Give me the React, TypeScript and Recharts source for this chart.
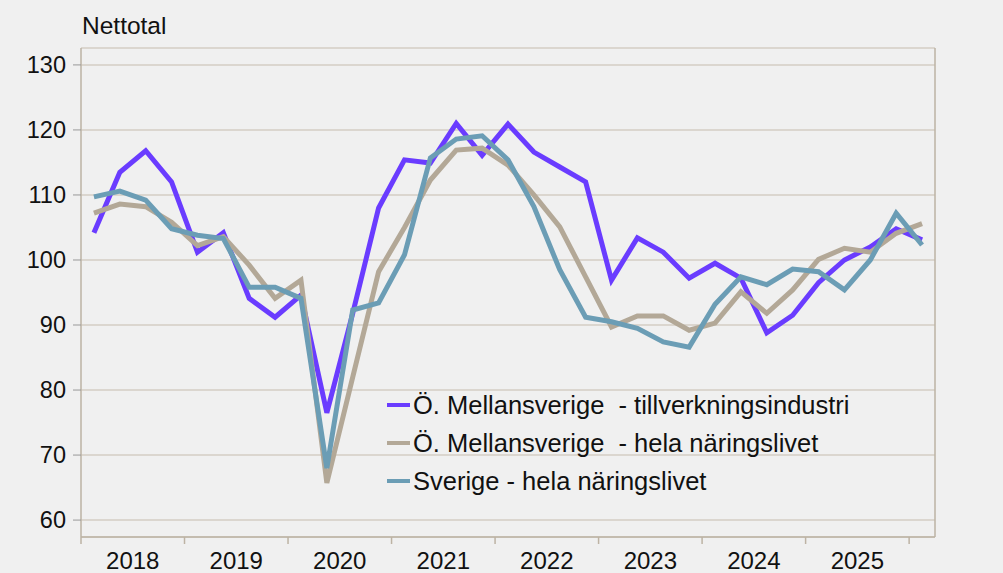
import { LineChart, Line, XAxis, YAxis, CartesianGrid, Legend } from 'recharts'

const quarters = [
  '2018K1', '2018K2', '2018K3', '2018K4',
  '2019K1', '2019K2', '2019K3', '2019K4',
  '2020K1', '2020K2', '2020K3', '2020K4',
  '2021K1', '2021K2', '2021K3', '2021K4',
  '2022K1', '2022K2', '2022K3', '2022K4',
  '2023K1', '2023K2', '2023K3', '2023K4',
  '2024K1', '2024K2', '2024K3', '2024K4',
  '2025K1', '2025K2', '2025K3', '2025K4',
  '2026K1',
]

const years = ['2018', '2019', '2020', '2021', '2022', '2023', '2024', '2025']

const seriesNames = [
  'Ö. Mellansverige  - tillverkningsindustri',
  'Ö. Mellansverige  - hela näringslivet',
  'Sverige - hela näringslivet',
]

const omTillverkning = [
  104.2, 113.5, 116.8, 112.0, 101.2, 104.2, 94.1, 91.2, 94.6, 76.5, 91.8,
  108.0, 115.4, 114.9, 121.0, 116.1, 120.9, 116.6, 114.3, 112.0, 96.9, 103.4,
  101.2, 97.2, 99.5, 97.2, 88.8, 91.5, 96.5, 100.0, 102.0, 104.8, 103.1,
]

const omHela = [
  107.2, 108.6, 108.2, 105.8, 102.2, 103.6, 99.2, 94.1, 96.9, 65.7, 82.0,
  98.2, 105.0, 112.3, 116.9, 117.2, 114.6, 110.0, 105.1, 97.4, 89.7, 91.4,
  91.4, 89.2, 90.3, 95.1, 91.8, 95.4, 100.1, 101.8, 101.2, 104.1, 105.6,
]

const sverigeHela = [
  109.7, 110.6, 109.2, 104.8, 103.8, 103.3, 95.8, 95.8, 94.1, 68.0, 92.3,
  93.4, 100.8, 115.7, 118.6, 119.1, 115.4, 108.2, 98.5, 91.2, 90.5, 89.5,
  87.4, 86.6, 93.2, 97.4, 96.2, 98.6, 98.2, 95.4, 100.0, 107.2, 102.3,
]

const yTicks = [60, 70, 80, 90, 100, 110, 120, 130]

const data = quarters.map((q, i) => ({
  i,
  q,
  a: omTillverkning[i],
  b: omHela[i],
  c: sverigeHela[i],
}))

// year boundaries get a tick mark, year centres get the label
const boundaryTicks = years.map((_, k) => k * 4 - 0.5).concat([years.length * 4 - 0.5])
const labelTicks = years.map((_, k) => k * 4 + 1.5)
const xTicks = [...boundaryTicks, ...labelTicks].sort((m, n) => m - n)

const font = '"Liberation Sans", Arial, Helvetica, sans-serif'
const axisColor = '#bdb3a4'
const gridColor = '#d5cec4'

function YearTick(props: any) {
  const { x, y, payload } = props
  const v = payload.value as number
  if (boundaryTicks.includes(v)) {
    return <line x1={x} x2={x} y1={y} y2={y + 7} stroke={axisColor} strokeWidth={1.5} />
  }
  const idx = labelTicks.indexOf(v)
  return (
    <text x={x} y={y + 32} textAnchor='middle' fill='#111' fontSize={24} fontFamily={font}>
      {years[idx]}
    </text>
  )
}

function LegendBox(props: any) {
  const items = props.payload || []
  return (
    <div style={{ fontFamily: font, fontSize: 25.5, color: '#111' }}>
      {items.map((it: any) => (
        <div key={it.value} style={{ display: 'flex', alignItems: 'center', height: 38 }}>
          <span style={{ display: 'inline-block', width: 23, height: 4, background: it.color, marginRight: 3 }} />
          <span style={{ whiteSpace: 'pre' }}>{it.value}</span>
        </div>
      ))}
    </div>
  )
}

export default function App() {
  return (
    <div style={{ position: 'absolute', left: 0, top: 0, width: 1003, height: 573, background: '#f0f0f0' }}>
      <span
        style={{ position: 'absolute', left: 82, top: 12, fontFamily: font, fontSize: 24.5, color: '#111' }}
      >
        Nettotal
      </span>
      <LineChart width={1003} height={573} data={data} margin={{ top: 48, right: 8, bottom: 0, left: 11 }}>
        <CartesianGrid yAxisId='left' vertical={false} stroke={gridColor} strokeWidth={1.5} />
        <XAxis
          dataKey='i'
          type='number'
          domain={[-0.5, 32.5]}
          ticks={xTicks}
          interval={0}
          height={36}
          tickSize={0}
          tickMargin={0}
          tickLine={false}
          axisLine={{ stroke: axisColor, strokeWidth: 1.5 }}
          tick={<YearTick />}
        />
        <YAxis
          yAxisId='left'
          domain={[57.4, 132.6]}
          ticks={yTicks}
          interval={0}
          width={70}
          tickSize={8}
          tickMargin={7}
          axisLine={{ stroke: axisColor, strokeWidth: 1.5 }}
          tickLine={{ stroke: '#999', strokeWidth: 1 }}
          tick={{ fill: '#111', fontSize: 23.5, fontFamily: font }}
        />
        <YAxis
          yAxisId='right'
          orientation='right'
          domain={[57.4, 132.6]}
          ticks={yTicks}
          interval={0}
          width={60}
          tickSize={9}
          tickMargin={7}
          axisLine={{ stroke: axisColor, strokeWidth: 1.5 }}
          tickLine={{ stroke: '#999', strokeWidth: 1 }}
          tick={{ fill: '#111', fontSize: 23.5, fontFamily: font }}
        />
        <Legend
          layout='vertical'
          align='center'
          verticalAlign='middle'
          itemSorter={(it: any) => seriesNames.indexOf(it.value)}
          wrapperStyle={{ left: 387, top: 386, width: 540 }}
          content={<LegendBox />}
        />
        <Line
          yAxisId='left'
          dataKey='a'
          name={seriesNames[0]}
          stroke='#6a3cff'
          strokeWidth={5}
          dot={false}
          isAnimationActive={false}
        />
        <Line
          yAxisId='left'
          dataKey='b'
          name={seriesNames[1]}
          stroke='#b3a897'
          strokeWidth={5}
          dot={false}
          isAnimationActive={false}
        />
        <Line
          yAxisId='left'
          dataKey='c'
          name={seriesNames[2]}
          stroke='#6b9db5'
          strokeWidth={5}
          dot={false}
          isAnimationActive={false}
        />
      </LineChart>
    </div>
  )
}
